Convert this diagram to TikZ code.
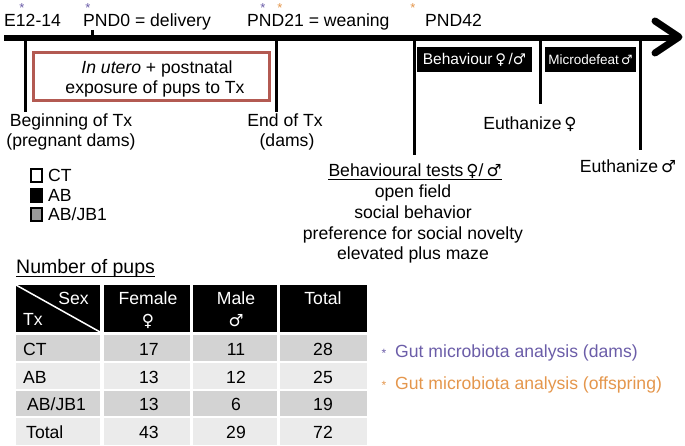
\documentclass[tikz,border=0pt]{standalone}
\usepackage{fontspec}
\setmainfont{Liberation Sans}
\newfontfamily\symfont{DejaVu Sans}
\newcommand{\fsym}{{\symfont\scalebox{0.95}{♀}}}
\newcommand{\msym}{{\symfont\scalebox{0.95}{♂}}}
\definecolor{boxred}{HTML}{B35A52}
\definecolor{dampurple}{HTML}{6B5DA8}
\definecolor{offorange}{HTML}{E4964C}
\definecolor{rowdark}{HTML}{D3D3D3}
\definecolor{rowlight}{HTML}{EBEBEB}
\begin{document}
\begin{tikzpicture}[x=1pt,y=-1pt,
  txt/.style={font=\fontsize{17.6}{20}\selectfont, inner sep=0pt, anchor=base},
  smalltxt/.style={font=\fontsize{15.5}{17}\selectfont, inner sep=0pt, anchor=base, text=white},
  tick/.style={line width=3pt},
  starp/.style={font=\fontsize{13}{13}\selectfont, inner sep=0pt, anchor=base, text=dampurple},
  staro/.style={font=\fontsize{13}{13}\selectfont, inner sep=0pt, anchor=base, text=offorange},
  hdr/.style={txt, text=white},
  legsq/.style={draw=black, line width=1.3pt}
]
\useasboundingbox (0,0) rectangle (685,446);

% timeline
\coordinate (tl0) at (4,38);
\coordinate (tl1) at (674,38);
\draw[line width=6.5pt] (tl0) -- (tl1);
\coordinate (ah1) at (655,21);
\coordinate (ahtip) at (679,37);
\coordinate (ah2) at (655,53);
\draw[line width=7pt, line cap=round, line join=round] (ah1) -- (ahtip) -- (ah2);

% ticks
\coordinate (t1a) at (25,38);  \coordinate (t1b) at (25,112);
\coordinate (t0a) at (92,30);  \coordinate (t0b) at (92,38);
\coordinate (t2a) at (276,38); \coordinate (t2b) at (276,112);
\coordinate (t3a) at (414,38); \coordinate (t3b) at (414,155);
\coordinate (t4a) at (540,38); \coordinate (t4b) at (540,104);
\coordinate (t5a) at (640,38); \coordinate (t5b) at (640,150);
\draw[tick] (t1a) -- (t1b);
\draw[tick] (t0a) -- (t0b);
\draw[tick] (t2a) -- (t2b);
\draw[tick] (t3a) -- (t3b);
\draw[tick] (t4a) -- (t4b);
\draw[tick] (t5a) -- (t5b);

% top labels
\node[txt, anchor=base west] (e12) at (4,27) {E12-14};
\node[txt, anchor=base west] (pnd0) at (83,27) {PND0 = delivery};
\node[txt, anchor=base west] (pnd21) at (247,27) {PND21 = weaning};
\node[txt, anchor=base west] (pnd42) at (425,27) {PND42};

% stars
\node[starp] (s1) at (22,12.5) {*};
\node[starp] (s2) at (88,12.5) {*};
\node[starp] (s3) at (263,12.5) {*};
\node[staro] (s4) at (280,12.5) {*};
\node[staro] (s5) at (413,12.5) {*};

% exposure box
\draw[boxred, line width=3pt] (33,53) rectangle (269,101);
\node[txt] (ex1) at (157,74) {\textit{In utero} + postnatal};
\node[txt] (ex2) at (155,94) {exposure of pups to Tx};

% black boxes
\fill[black] (417,47) rectangle (532,72);
\node[smalltxt] (beh) at (474.5,65) {Behaviour\,\fsym\,/\msym};
\fill[black] (545,47) rectangle (636,72);
\node[smalltxt, font=\fontsize{13.5}{15}\selectfont] (micro) at (590.5,65) {Microdefeat\,\msym};

% labels under ticks
\node[txt] (beg1) at (71,127) {Beginning of Tx};
\node[txt] (beg2) at (71,147) {(pregnant dams)};
\node[txt] (end1) at (285,127) {End of Tx};
\node[txt] (end2) at (287,147) {(dams)};

% legend
\draw[legsq, fill=white] (31,169) rectangle (42,182);
\draw[legsq, fill=black] (31,189) rectangle (42,202);
\draw[legsq, fill=gray!80] (31,208) rectangle (42,221);
\node[txt, anchor=base west] (lct) at (48,182) {CT};
\node[txt, anchor=base west] (lab) at (48,202) {AB};
\node[txt, anchor=base west] (ljb) at (48,221) {AB/JB1};

% behavioural tests
\node[txt] (bt) at (415,177) {Behavioural tests\,\fsym/\,\msym};
\draw[line width=0.8pt] ([yshift=-2.5pt]bt.base west) -- ([yshift=-2.5pt]bt.base east);
\node[txt] (bt1) at (413,198) {open field};
\node[txt] (bt2) at (413,219) {social behavior};
\node[txt] (bt3) at (413,240) {preference for social novelty};
\node[txt] (bt4) at (413,260) {elevated plus maze};

% euthanize
\node[txt] (eu1) at (530,130) {Euthanize\,\fsym};
\node[txt] (eu2) at (628,173) {Euthanize\,\msym};

% number of pups
\node[txt, anchor=base west, font=\fontsize{19.5}{22}\selectfont] (nop) at (16,274) {Number of pups};
\draw[line width=0.8pt] ([yshift=-2.5pt]nop.base west) -- ([yshift=-2.5pt]nop.base east);

% table header
\fill[black] (16,285) rectangle (100,332);
\fill[black] (104,285) rectangle (190,332);
\fill[black] (193,285) rectangle (277,332);
\fill[black] (280,285) rectangle (367,332);
\draw[white, line width=1.5pt] (16,285) -- (100,332);
\node[hdr, anchor=base east] (hsex) at (89,305) {Sex};
\node[hdr, anchor=base west] (htx) at (23,325) {Tx};
\node[hdr] (hfem) at (148,305) {Female};
\node[hdr] (hfems) at (148,326) {\fsym};
\node[hdr] (hmale) at (236,305) {Male};
\node[hdr] (hmales) at (236,326) {\msym};
\node[hdr] (htot) at (323,305) {Total};

% table rows
\foreach \ya/\yb/\c in {335/361/rowdark, 363/389/rowlight, 391/416/rowdark, 418/445/rowlight}{
  \fill[\c] (16,\ya) rectangle (100,\yb);
  \fill[\c] (104,\ya) rectangle (190,\yb);
  \fill[\c] (193,\ya) rectangle (277,\yb);
  \fill[\c] (280,\ya) rectangle (367,\yb);
}
\node[txt, anchor=base west] (rct) at (23,355) {CT};
\node[txt] (rct1) at (149,355) {17};
\node[txt] (rct2) at (236,355) {11};
\node[txt] (rct3) at (323,355) {28};
\node[txt, anchor=base west] (rab) at (23,383) {AB};
\node[txt] (rab1) at (149,383) {13};
\node[txt] (rab2) at (236,383) {12};
\node[txt] (rab3) at (323,383) {25};
\node[txt, anchor=base west] (rjb) at (27,410) {AB/JB1};
\node[txt] (rjb1) at (149,410) {13};
\node[txt] (rjb2) at (236,410) {6};
\node[txt] (rjb3) at (323,410) {19};
\node[txt, anchor=base west] (rtot) at (26,438) {Total};
\node[txt] (rtot1) at (149,438) {43};
\node[txt] (rtot2) at (236,438) {29};
\node[txt] (rtot3) at (323,438) {72};

% gut microbiota legend
\node[starp, font=\fontsize{12}{12}\selectfont] (gs1) at (384,357) {*};
\node[txt, anchor=base west, text=dampurple] (g1) at (395,357) {Gut microbiota analysis (dams)};
\node[staro, font=\fontsize{12}{12}\selectfont] (gs2) at (384,389) {*};
\node[txt, anchor=base west, text=offorange] (g2) at (395,389) {Gut microbiota analysis (offspring)};
\end{tikzpicture}
\end{document}
